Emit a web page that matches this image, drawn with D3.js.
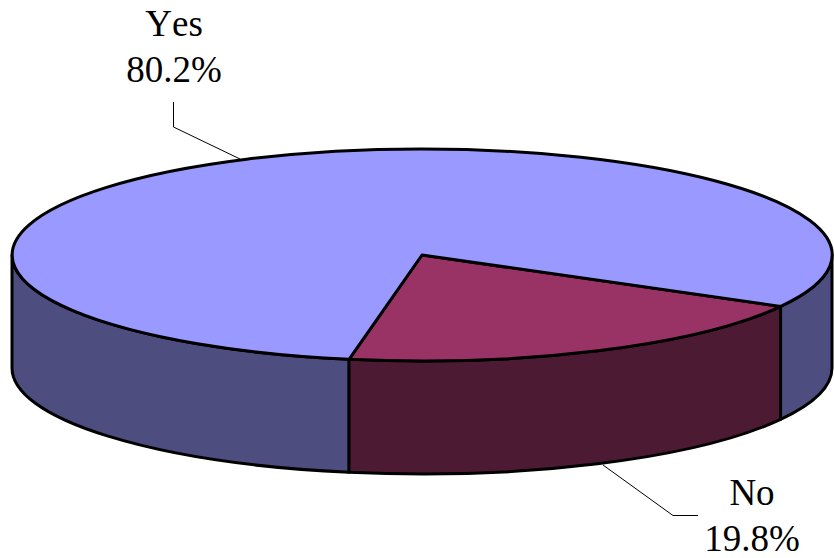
<!DOCTYPE html>
<html>
<head>
<meta charset="utf-8">
<style>
  html, body { margin: 0; padding: 0; background: #fff; }
  svg { display: block; }
  text { font-family: "Liberation Serif", "Times New Roman", serif; font-size: 37px; font-kerning: none; fill: #000; }
</style>
<script src="https://cdn.jsdelivr.net/npm/d3@7"></script>
</head>
<body>
<svg id="chart" width="834" height="558"></svg>
<script>
// Survey responses
const categories = ["No", "Yes"];
const shares = [19.8, 80.2];
const shareLabels = ["19.8%", "80.2%"];
const topColors = ["#993366", "#9999FF"];
const sideColors = ["#4D1A33", "#4D4D80"];

// Disc geometry: a tilted pie is an ellipse plus a wall below its front half
const cx = 422, cy = 255, rx = 410, ry = 106, depth = 113;
const strokeWidth = 3;
const firstAngle = 119 * Math.PI / 180;

const svg = d3.select("#chart");

const slices = d3.pie().sort(null)
  .startAngle(firstAngle)
  .endAngle(firstAngle + 2 * Math.PI)(shares);

const rimX = a => cx + rx * Math.sin(a);
const rimY = a => cy - ry * Math.cos(a);

// Walls are visible only for the part of the rim facing the viewer
const frontStart = Math.PI / 2, frontEnd = 3 * Math.PI / 2;
function wallPath(a0, a1) {
  return `M${rimX(a0)},${rimY(a0)}` +
    `A${rx},${ry} 0 0 1 ${rimX(a1)},${rimY(a1)}` +
    `L${rimX(a1)},${rimY(a1) + depth}` +
    `A${rx},${ry} 0 0 0 ${rimX(a0)},${rimY(a0) + depth}Z`;
}

const walls = [];
slices.forEach(s => {
  [0, 2 * Math.PI].forEach(turn => {
    const a0 = Math.max(s.startAngle - turn, frontStart);
    const a1 = Math.min(s.endAngle - turn, frontEnd);
    if (a1 > a0) walls.push({ index: s.index, a0, a1 });
  });
});

svg.append("g").selectAll("path").data(walls).join("path")
  .attr("d", d => wallPath(d.a0, d.a1))
  .attr("fill", d => sideColors[d.index])
  .attr("stroke", "#000")
  .attr("stroke-width", strokeWidth)
  .attr("stroke-linejoin", "round");

// Top face: unit-radius arcs stretched to the ellipse
const arc = d3.arc().innerRadius(0).outerRadius(1);
svg.append("g")
  .attr("transform", `translate(${cx},${cy}) scale(${rx},${ry})`)
  .selectAll("path").data(slices).join("path")
  .attr("d", arc)
  .attr("fill", d => topColors[d.index])
  .attr("stroke", "#000")
  .attr("stroke-width", strokeWidth)
  .attr("stroke-linejoin", "round")
  .attr("vector-effect", "non-scaling-stroke");

// Leader lines from each label to its slice
const leaders = [
  [[698, 515.5], [673, 515.5], [603, 465]],
  [[173.5, 102], [173.5, 127], [240, 159]]
];
svg.append("g").selectAll("path").data(leaders).join("path")
  .attr("d", d3.line())
  .attr("fill", "none")
  .attr("stroke", "#000")
  .attr("stroke-width", 1);

// Two-line labels: category above its share
const labelAnchors = [[752, 505], [174, 36]];
const lineGap = 46;
const labels = svg.append("g").selectAll("text").data(categories).join("text")
  .attr("text-anchor", "middle")
  .attr("transform", (d, i) => `translate(${labelAnchors[i][0]},${labelAnchors[i][1]})`);
labels.append("tspan").attr("x", 0).attr("y", 0).text(d => d);
labels.append("tspan").attr("x", 0).attr("y", lineGap).text((d, i) => shareLabels[i]);
</script>
</body>
</html>
